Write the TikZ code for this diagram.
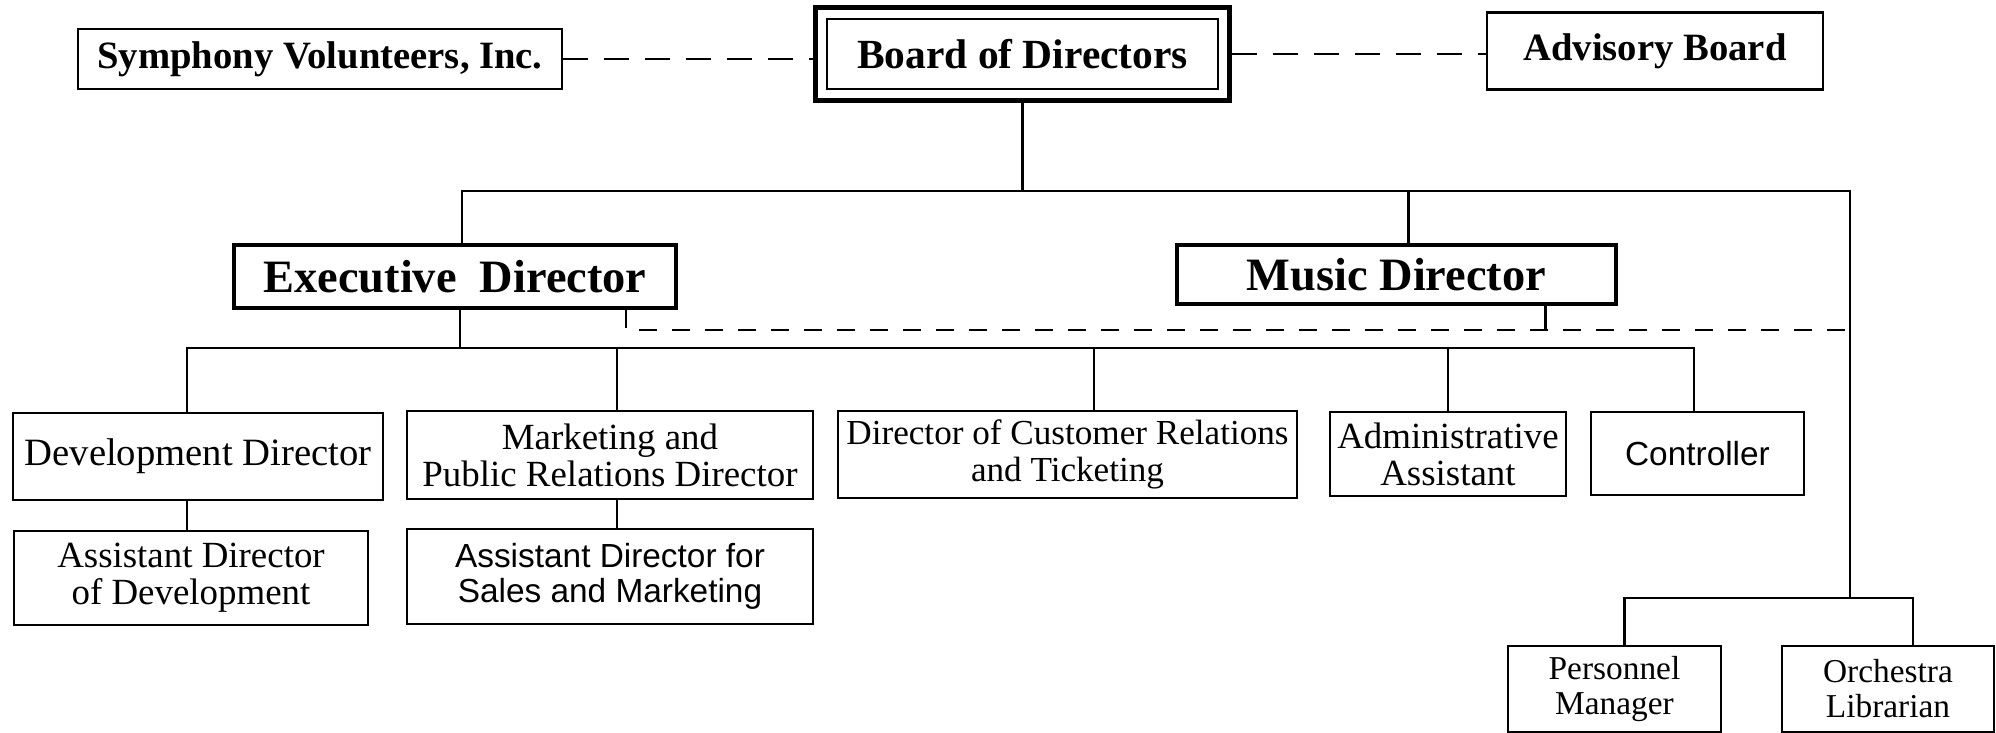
\documentclass[tikz,border=0pt]{standalone}
\usepackage{fontspec}
\setmainfont{Liberation Serif}
\newfontfamily\sansf{Liberation Sans}
\usetikzlibrary{positioning,fit}

\begin{document}
\begin{tikzpicture}[
    line width=0.6pt,
    box/.style={rectangle, draw, inner sep=0pt, align=center},
    topbox/.style={box, font=\fontsize{11}{13}\selectfont\bfseries},
    headbox/.style={box, line width=1.3pt, font=\fontsize{13.2}{15}\selectfont\bfseries},
    staffbox/.style={box, font=\fontsize{10.5}{10.5}\selectfont},
    sansbox/.style={box, font=\fontsize{9.5}{10}\selectfont\sansf},
    linkline/.style={dash pattern=on 0.25cm off 0.16cm},
    dotline/.style={dash pattern=on 0.18cm off 0.15cm}]
    \useasboundingbox (0,0) rectangle (19.96,-7.33);

    % Boards
    \node[topbox, minimum width=4.84cm, minimum height=0.60cm] (sym) at (3.20,-0.59) {Symphony Volunteers, Inc.};
    \node[topbox, minimum width=3.91cm, minimum height=0.70cm, font=\fontsize{11.8}{13}\selectfont\bfseries] (board) at (10.225,-0.54) {Board of Directors};
    \node[draw, fit=(board), inner sep=0.105cm, line width=1.5pt] (boardframe) {};
    \node[topbox, minimum width=3.36cm, minimum height=0.77cm] (adv) at (16.55,-0.51) {Advisory Board};

    % Directors
    \node[headbox, minimum width=4.42cm, minimum height=0.63cm] (exec) at (4.55,-2.765) {Executive\ \ Director};
    \node[headbox, minimum width=4.39cm, minimum height=0.59cm] (music) at (13.965,-2.745) {Music Director};

    % Staff
    \node[staffbox, minimum width=3.70cm, minimum height=0.87cm, font=\fontsize{11}{11}\selectfont] (dev) at (1.98,-4.565) {Development Director};
    \node[staffbox, minimum width=4.06cm, minimum height=0.88cm] (mkt) at (6.10,-4.55) {Marketing and\\Public Relations Director};
    \node[staffbox, minimum width=4.59cm, minimum height=0.87cm, font=\fontsize{10}{10.5}\selectfont] (cust) at (10.675,-4.545) {Director of Customer Relations\\and Ticketing};
    \node[staffbox, minimum width=2.36cm, minimum height=0.84cm] (admin) at (14.48,-4.54) {Administrative\\Assistant};
    \node[sansbox, minimum width=2.13cm, minimum height=0.83cm] (ctrl) at (16.975,-4.535) {Controller};
    \node[staffbox, minimum width=3.54cm, minimum height=0.94cm] (asstdev) at (1.91,-5.78) {Assistant Director\\of Development};
    \node[sansbox, minimum width=4.06cm, minimum height=0.95cm] (asstsales) at (6.10,-5.765) {Assistant Director for\\Sales and Marketing};
    \node[staffbox, minimum width=2.13cm, minimum height=0.86cm, font=\fontsize{9.5}{10}\selectfont] (pers) at (16.145,-6.89) {Personnel\\Manager};
    \node[staffbox, minimum width=2.12cm, minimum height=0.86cm, font=\fontsize{9.5}{10}\selectfont] (lib) at (18.88,-6.89) {Orchestra\\Librarian};

    % Bus points
    \coordinate (top) at (10.22,-1.91);
    \coordinate (ebus) at (4.60,-3.48);
    \coordinate (dend) at (18.45,-3.30);
    \coordinate (obus) at (18.50,-5.98);

    % Lines
    \draw[linkline] (sym.east) -- (boardframe.west |- sym.east);
    \draw[linkline] (boardframe.east) -- (boardframe.east -| adv.west);
    \draw (boardframe.south) -- (boardframe.south |- top);
    \draw ([xshift=0.07cm]exec.north) |- (top) -| ([xshift=0.12cm]music.north);
    \draw (top) -| (obus);
    \draw ([xshift=0.05cm]exec.south) -- ([xshift=0.05cm]exec.south |- ebus);
    \draw ([xshift=-0.11cm]dev.north) |- (ebus) -| ([xshift=-0.035cm]ctrl.north);
    \draw ([xshift=0.07cm]mkt.north) -- ([xshift=0.07cm]mkt.north |- ebus);
    \draw ([xshift=0.265cm]cust.north) -- ([xshift=0.265cm]cust.north |- ebus);
    \draw (admin.north) -- (admin.north |- ebus);
    \draw ([xshift=-0.11cm]dev.south) -- ([xshift=-0.11cm]dev.south |- asstdev.north);
    \draw ([xshift=0.07cm]mkt.south) -- ([xshift=0.07cm]asstsales.north);
    \draw ([xshift=0.1cm]pers.north) |- (obus) -| ([xshift=0.25cm]lib.north);
    \draw[dotline] ([xshift=1.71cm]exec.south) |- (dend);
    \draw ([xshift=1.49cm]music.south) -- ([xshift=1.49cm]music.south |- dend);
\end{tikzpicture}
\end{document}
